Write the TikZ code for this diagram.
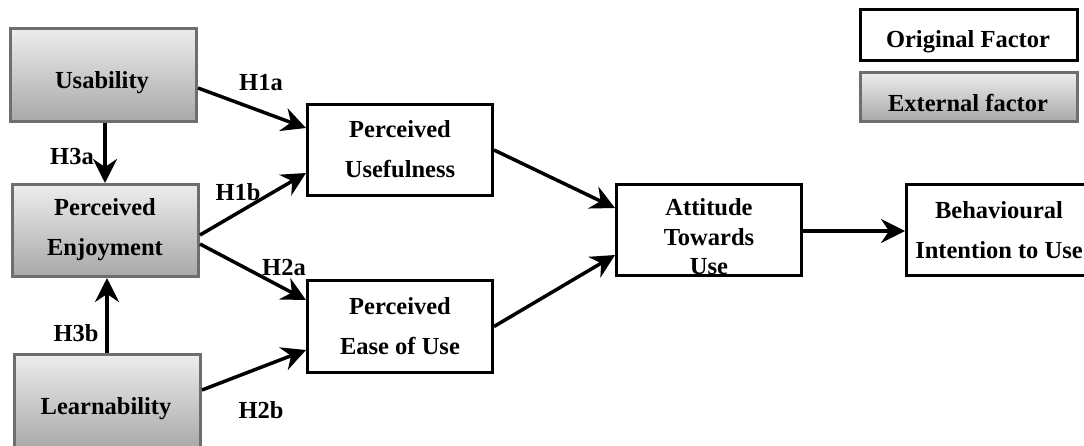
\documentclass[tikz,border=0pt]{standalone}
\usepackage{fontspec}
\setmainfont{Liberation Serif}
\usetikzlibrary{arrows.meta}
\definecolor{extborder}{HTML}{6E6E6E}
\definecolor{exttop}{HTML}{EDEDED}
\definecolor{extbot}{HTML}{A8A8A8}
\begin{document}
\begin{tikzpicture}[x=1pt,y=-1pt,
  orig/.style={draw=black,line width=3pt,fill=white,minimum width=185pt,minimum height=91pt,inner sep=0pt},
  extf/.style={draw=extborder,line width=3pt,top color=exttop,bottom color=extbot,minimum width=186pt,minimum height=93pt,inner sep=0pt},
  txt/.style={font=\fontsize{24.5}{40}\selectfont\bfseries,align=center,inner sep=0pt},
  hlab/.style={font=\fontsize{24.5}{28}\selectfont\bfseries,inner sep=0pt},
  arr/.style={line width=3.5pt,-{Stealth[length=24pt,width=24pt,inset=8pt]}},
]
\useasboundingbox (0,0) rectangle (1084,445);
\fill[white] (0,0) rectangle (1084,445);
\clip (0,0) rectangle (1084,445);

% boxes
\node[extf] (usab) at (103.5,75) {};
\node[extf,minimum height=92pt] (enj) at (105.5,230.5) {};
\node[extf,minimum height=96pt] (learn) at (107.5,402) {};
\node[orig] (pu) at (400,150) {};
\node[orig,minimum height=92pt] (peou) at (400,326.5) {};
\node[orig] (atu) at (709,230) {};
\node[orig] (bi) at (999,230) {};
\node[orig,minimum width=217pt,minimum height=51pt] (of) at (969,35) {};
\node[extf,minimum width=217pt,minimum height=49pt] (ef) at (969,97) {};

% texts
\node[txt] (usab-t) at (102,82.5) {Usability};
\node[txt] (enj-t) at (105,230) {Perceived\\Enjoyment};
\node[txt] (learn-t) at (106,409) {Learnability};
\node[txt] (pu-t) at (400,149) {Perceived\\Usefulness};
\node[txt] (peou-t) at (400,326.5) {Perceived\\Ease of Use};
\node[txt,font=\fontsize{24.5}{29.5}\selectfont\bfseries] (atu-t) at (709,237) {Attitude\\Towards\\Use};
\node[txt] (bi-t) at (999,230) {Behavioural\\Intention to Use};
\node[txt] (of-t) at (968,41.5) {Original Factor};
\node[txt] (ef-t) at (968,103) {External factor};

% connectors
\draw[arr] ([yshift=-13pt]usab.east) -- ([yshift=22pt]pu.west);
\draw[arr] ([xshift=1.5pt]usab.south) -- ([xshift=-0.5pt]enj.north);
\draw[arr] ([yshift=-4.5pt]enj.east) -- ([yshift=-23pt]pu.west);
\draw[arr] ([yshift=-13.5pt]enj.east) -- ([yshift=26.5pt]peou.west);
\draw[arr] ([xshift=-0.5pt]learn.north) -- ([xshift=1.5pt]enj.south);
\draw[arr] ([yshift=12pt]learn.east) -- ([yshift=-23.5pt]peou.west);
\draw[arr] (pu.east) -- ([yshift=22pt]atu.west);
\draw[arr] (peou.east) -- ([yshift=-25pt]atu.west);
\draw[arr] ([yshift=-1pt]atu.east) -- ([yshift=-1pt]bi.west);

% hypothesis labels
\node[hlab] (h1a) at (261,83) {H1a};
\node[hlab] (h3a) at (72,157) {H3a};
\node[hlab] (h1b) at (238,192) {H1b};
\node[hlab] (h2a) at (284,268) {H2a};
\node[hlab] (h3b) at (76,333) {H3b};
\node[hlab] (h2b) at (261,410) {H2b};
\end{tikzpicture}
\end{document}
